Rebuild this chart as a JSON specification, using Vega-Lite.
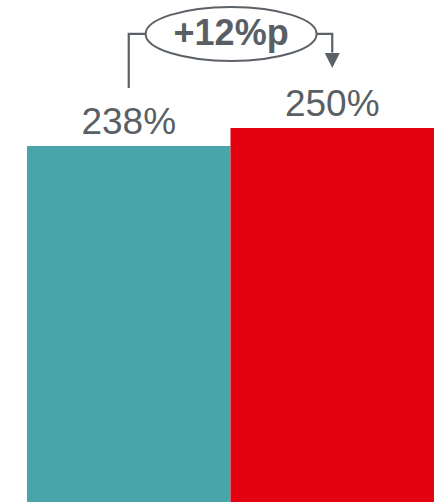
{
  "$schema": "https://vega.github.io/schema/vega-lite/v6.json",
  "width": 438,
  "height": 502,
  "padding": 0,
  "autosize": {"type": "none"},
  "config": {"view": {"stroke": null}},
  "layer": [
    {
      "data": {"values": [
        {"cat": "A", "x": 0, "x1": 1, "xm": 0.5, "y": 238, "label": "238%"},
        {"cat": "B", "x": 1, "x1": 2, "xm": 1.5, "y": 250, "label": "250%"}
      ]},
      "layer": [
        {
          "mark": {"type": "bar"},
          "encoding": {
            "x": {"field": "x", "type": "quantitative", "scale": {"domain": [-0.1327, 2.0197], "nice": false, "zero": false}, "axis": null},
            "x2": {"field": "x1"},
            "y": {"field": "y", "type": "quantitative", "scale": {"domain": [0, 335.6], "nice": false, "zero": false}, "axis": null},
            "y2": {"datum": 0},
            "color": {"field": "cat", "type": "nominal", "scale": {"domain": ["A", "B"], "range": ["#48a6aa", "#e3000f"]}, "legend": null}
          }
        },
        {
          "mark": {"type": "text", "font": "Liberation Sans", "fontSize": 37, "color": "#595f64", "baseline": "alphabetic", "align": "center", "dy": -12},
          "encoding": {
            "x": {"field": "xm", "type": "quantitative", "scale": {"domain": [-0.1327, 2.0197], "nice": false, "zero": false}, "axis": null},
            "y": {"field": "y", "type": "quantitative", "scale": {"domain": [0, 335.6], "nice": false, "zero": false}, "axis": null},
            "text": {"field": "label"}
          }
        }
      ]
    },
    {
      "data": {"values": [
        {"x": 0.5, "y": 276.8, "o": 1},
        {"x": 0.5, "y": 312.9, "o": 2},
        {"x": 1.5, "y": 312.9, "o": 3},
        {"x": 1.5, "y": 300.5, "o": 4}
      ]},
      "mark": {"type": "line", "color": "#5b6166", "strokeWidth": 2.2, "interpolate": "linear"},
      "encoding": {
        "x": {"field": "x", "type": "quantitative", "scale": {"domain": [-0.1327, 2.0197], "nice": false, "zero": false}, "axis": null},
        "y": {"field": "y", "type": "quantitative", "scale": {"domain": [0, 335.6], "nice": false, "zero": false}, "axis": null},
        "order": {"field": "o", "type": "quantitative"}
      }
    },
    {
      "data": {"values": [{"x": 1.5, "y": 295.2}]},
      "mark": {"type": "point", "shape": "M -1 -1 L 1 -1 L 0 1 Z", "size": 225, "filled": true, "color": "#5b6166", "opacity": 1},
      "encoding": {
        "x": {"field": "x", "type": "quantitative", "scale": {"domain": [-0.1327, 2.0197], "nice": false, "zero": false}, "axis": null},
        "y": {"field": "y", "type": "quantitative", "scale": {"domain": [0, 335.6], "nice": false, "zero": false}, "axis": null}
      }
    },
    {
      "data": {"values": [{"x": 1.003, "y": 312.9, "label": "+12%p", "ty": 305.5}]},
      "layer": [
        {
          "mark": {"type": "point", "shape": "M -1 0 A 1 0.316 0 1 0 1 0 A 1 0.316 0 1 0 -1 0 Z", "size": 29241, "filled": false, "fill": "#ffffff", "fillOpacity": 1, "stroke": "#5b6166", "strokeWidth": 2, "opacity": 1},
          "encoding": {
            "x": {"field": "x", "type": "quantitative", "scale": {"domain": [-0.1327, 2.0197], "nice": false, "zero": false}, "axis": null},
            "y": {"field": "y", "type": "quantitative", "scale": {"domain": [0, 335.6], "nice": false, "zero": false}, "axis": null}
          }
        },
        {
          "mark": {"type": "text", "font": "Liberation Sans", "fontSize": 36, "fontWeight": "bold", "color": "#595f64", "baseline": "alphabetic", "align": "center"},
          "encoding": {
            "x": {"field": "x", "type": "quantitative", "scale": {"domain": [-0.1327, 2.0197], "nice": false, "zero": false}, "axis": null},
            "y": {"field": "ty", "type": "quantitative", "scale": {"domain": [0, 335.6], "nice": false, "zero": false}, "axis": null},
            "text": {"field": "label"}
          }
        }
      ]
    }
  ]
}
